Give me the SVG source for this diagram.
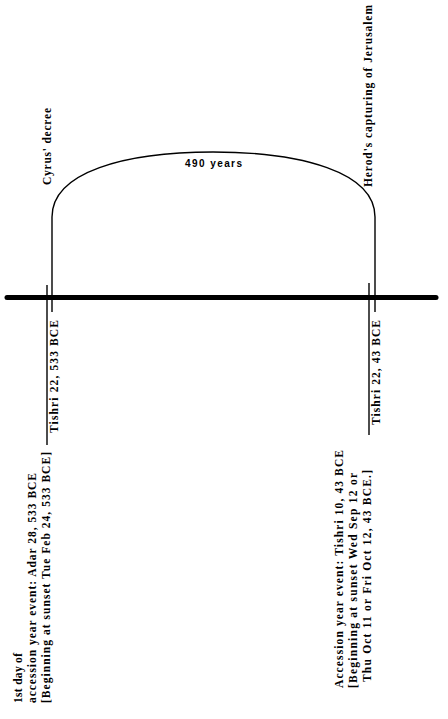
<svg xmlns="http://www.w3.org/2000/svg" width="448" height="719" viewBox="0 0 448 719">
<style>
.t{font-family:"Liberation Serif","Times New Roman",serif;font-weight:bold;font-size:11.5px;fill:#000}
.s{font-family:"Liberation Sans",Arial,sans-serif;font-weight:bold;font-size:10px;fill:#000}
.thin{stroke:#000;stroke-width:1.4;fill:none}
</style>
<rect width="448" height="719" fill="#fff"/>
<g id="connectors">
<line x1="7" y1="297.5" x2="436" y2="297.5" stroke="#000" stroke-width="5" stroke-linecap="round"/>
<path class="thin" d="M52,312 V217 C52,172 125,152 213,152 C301,152 375,172 375,217 V312"/>
<line class="thin" x1="47" y1="285" x2="47" y2="445"/>
<line class="thin" x1="369" y1="283" x2="369" y2="435"/>
</g>
<g id="label-490"><text class="s" x="213.5" y="167" text-anchor="middle" textLength="57" lengthAdjust="spacing">490 years</text></g>
<g id="cyrus"><text class="t" transform="translate(51,185) rotate(-90)" textLength="77" lengthAdjust="spacing">Cyrus' decree</text></g>
<g id="herod"><text class="t" transform="translate(372,187) rotate(-90)" textLength="182" lengthAdjust="spacing">Herod's capturing of Jerusalem</text></g>
<g id="tishri533"><text class="t" transform="translate(58,433) rotate(-90)" textLength="113" lengthAdjust="spacing">Tishri 22, 533 BCE</text></g>
<g id="tishri43"><text class="t" transform="translate(380,425) rotate(-90)" textLength="105" lengthAdjust="spacing">Tishri 22, 43 BCE</text></g>
<g id="left-note">
<text class="t" transform="translate(22,703) rotate(-90)" textLength="50" lengthAdjust="spacing">1st day of</text>
<text class="t" transform="translate(36,703) rotate(-90)" textLength="230" lengthAdjust="spacing">accession year event: Adar 28, 533 BCE</text>
<text class="t" transform="translate(50,703) rotate(-90)" textLength="251" lengthAdjust="spacing">[Beginning at sunset Tue Feb 24, 533 BCE]</text>
</g>
<g id="right-note">
<text class="t" transform="translate(343,688) rotate(-90)" textLength="238" lengthAdjust="spacing">Accession year event: Tishri 10, 43 BCE</text>
<text class="t" transform="translate(357,688) rotate(-90)" textLength="215" lengthAdjust="spacing">[Beginning at sunset Wed Sep 12 or</text>
<text class="t" transform="translate(371,682) rotate(-90)" textLength="212" lengthAdjust="spacing">Thu Oct 11 or Fri Oct 12, 43 BCE.]</text>
</g>
</svg>
